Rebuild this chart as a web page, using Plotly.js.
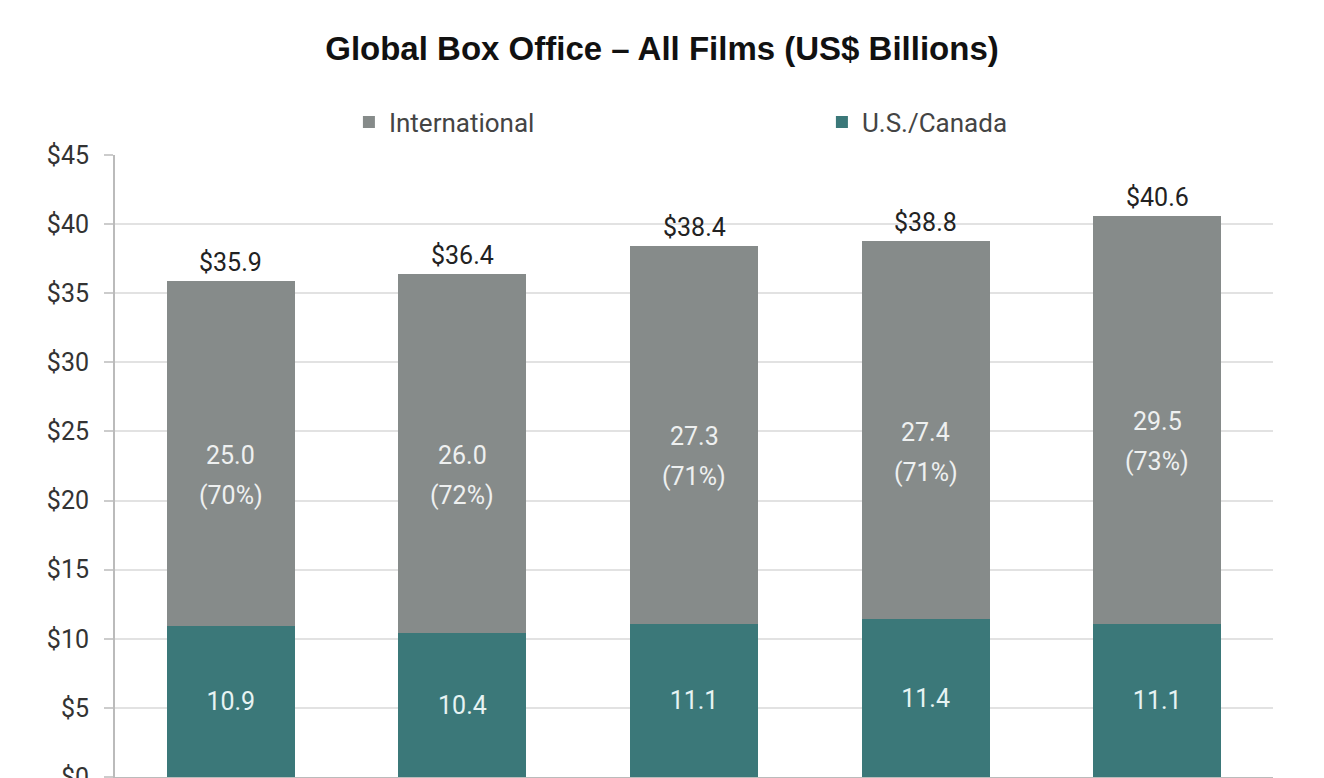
<!DOCTYPE html>
<html>
<head>
<meta charset="utf-8">
<script src="https://cdn.plot.ly/plotly-3.0.1.min.js"></script>
<style>
html,body{margin:0;padding:0;overflow:hidden;background:#fff;}
#chart{width:1324px;height:840px;}
</style>
</head>
<body>
<div id="chart"></div>
<script>
const years = ['2013', '2014', '2015', '2016', '2017'];
const usCanada = [10.9, 10.4, 11.1, 11.4, 11.1];
const international = [25.0, 26.0, 27.3, 27.4, 29.5];
const intlShare = ['70%', '72%', '71%', '71%', '73%'];
const totals = [35.9, 36.4, 38.4, 38.8, 40.6];
const yTicks = [0, 5, 10, 15, 20, 25, 30, 35, 40, 45];

const FONT = 'Roboto, sans-serif';
const TEAL = '#3b7879';
const GRAY = '#868b8a';

const traces = [
  {
    type: 'bar', name: 'U.S./Canada', x: years, y: usCanada,
    marker: {color: TEAL, line: {width: 0}},
    text: usCanada.map(v => v.toFixed(1)),
    textposition: 'inside', insidetextanchor: 'middle',
    textfont: {family: FONT, size: 25, color: '#e6f3f3'},
    hoverinfo: 'skip'
  },
  {
    type: 'bar', name: 'International', x: years, y: international,
    marker: {color: GRAY, line: {width: 0}},
    hoverinfo: 'skip'
  }
];

const annotations = [];
years.forEach((yr, i) => {
  const mid = usCanada[i] + international[i] / 2;
  annotations.push({x: i, y: mid, xref: 'x', yref: 'y', text: international[i].toFixed(1),
    showarrow: false, yanchor: 'middle', yshift: -2,
    font: {family: FONT, size: 25, color: '#eef0f0'}});
  annotations.push({x: i, y: mid, xref: 'x', yref: 'y', text: '(' + intlShare[i] + ')',
    showarrow: false, yanchor: 'middle', yshift: -42,
    font: {family: FONT, size: 25, color: '#eef0f0'}});
  annotations.push({x: i, y: totals[i], xref: 'x', yref: 'y', text: '$' + totals[i].toFixed(1),
    showarrow: false, yanchor: 'bottom', yshift: 2,
    font: {family: FONT, size: 25, color: '#222'}});
});

const layout = {
  width: 1324, height: 840,
  margin: {l: 115, r: 51, t: 155, b: 63},
  paper_bgcolor: '#fff', plot_bgcolor: '#fff',
  font: {family: FONT, color: '#333'},
  title: {
    text: '<b>Global Box Office – All Films (US$ Billions)</b>',
    font: {family: '"Liberation Sans", Arial, sans-serif', size: 33, color: '#111'},
    x: 0.5, xref: 'container', xanchor: 'center',
    y: 1 - 48 / 840, yref: 'container', yanchor: 'middle'
  },
  barmode: 'stack',
  bargap: 0.447,
  showlegend: true,
  legend: {
    orientation: 'h', traceorder: 'reversed',
    x: 0.202, xanchor: 'left', y: 1.053, yanchor: 'middle',
    entrywidth: 428, entrywidthmode: 'pixels', itemwidth: 30,
    font: {family: FONT, size: 26, color: '#444'}
  },
  xaxis: {
    type: 'category', showgrid: false, zeroline: false,
    showline: true, linecolor: '#bbb', linewidth: 2,
    showticklabels: false
  },
  yaxis: {
    range: [0, 45], tickvals: yTicks, ticktext: yTicks.map(v => '$' + v),
    showgrid: true, gridcolor: '#e2e2e2', gridwidth: 2,
    zeroline: false, showline: true, linecolor: '#bbb', linewidth: 2,
    ticks: 'outside', ticklen: 9, tickcolor: '#ccc', tickwidth: 2,
    ticklabelstandoff: 10,
    tickfont: {family: FONT, size: 25, color: '#333'}
  },
  annotations: annotations
};

Plotly.newPlot('chart', traces, layout, {displayModeBar: false, staticPlot: true});
</script>
</body>
</html>
